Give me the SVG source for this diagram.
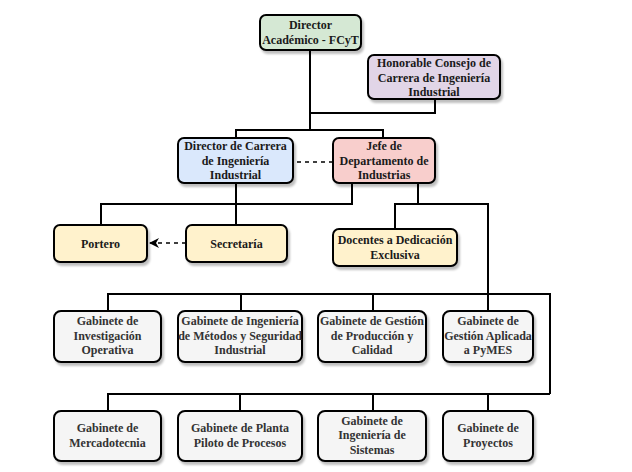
<svg xmlns="http://www.w3.org/2000/svg" width="632" height="472" viewBox="0 0 632 472">
<style>
.box{stroke:#000;stroke-width:2;filter:url(#sh)}
.t{font-family:"Liberation Serif","Times New Roman",serif;font-weight:bold;font-size:12px;text-anchor:middle;fill:#1a1a1a}
.g .t{fill:#333}
.c{fill:none;stroke:#000;stroke-width:2}
.d{fill:none;stroke:#000;stroke-width:1.5;stroke-dasharray:4 4}
.green{fill:#d5e8d4}.purple{fill:#e1d5e7}.blue{fill:#dae8fc}.red{fill:#f8cecc}.yellow{fill:#fff2cc}.gray{fill:#f5f5f5}
</style>
<defs>
<filter id="sh" x="-10%" y="-10%" width="130%" height="140%">
<feDropShadow dx="2" dy="3" stdDeviation="1.2" flood-color="#000" flood-opacity="0.25"/>
</filter>
<marker id="arr" viewBox="0 0 10 10" refX="9" refY="5" markerWidth="10" markerHeight="10" markerUnits="userSpaceOnUse" orient="auto">
<path d="M0,0 L10,5 L0,10 L3,5 z" fill="#000"/>
</marker>
</defs>
<rect width="632" height="472" fill="#fff"/>
<g id="connectors">
<path class="c" d="M310,50 V130"/>
<path class="c" d="M435,99 V113 H310"/>
<path class="c" d="M236,138 V130 H383 V138"/>
<path class="d" d="M297,162 H333"/>
<path class="c" d="M236,183 V225"/>
<path class="c" d="M352,183 V204 H101 V225"/>
<path class="c" d="M418,183 V204"/>
<path class="c" d="M395,229 V204 H488 V311"/>
<path class="c" d="M108,311 V294 H550 V394"/>
<path class="c" d="M241,294 V311"/>
<path class="c" d="M373,294 V311"/>
<path class="c" d="M108,411 V394 H550"/>
<path class="c" d="M240,394 V411"/>
<path class="c" d="M373,394 V411"/>
<path class="c" d="M488,394 V411"/>
<path class="d" d="M186,243 H150" marker-end="url(#arr)"/>
</g>
<g id="director-academico"><rect class="box green" x="260" y="15" width="101" height="35" rx="6"/>
<text class="t" x="310.5" y="29">Director</text><text class="t" x="310.5" y="44">Académico - FCyT</text></g>
<g id="honorable-consejo"><rect class="box purple" x="368" y="55" width="132" height="44" rx="6"/>
<text class="t" x="434" y="67">Honorable Consejo de</text><text class="t" x="434" y="81.5">Carrera de Ingeniería</text><text class="t" x="434" y="96">Industrial</text></g>
<g id="director-carrera"><rect class="box blue" x="178" y="138" width="115" height="45" rx="6"/>
<text class="t" x="235.5" y="150">Director de Carrera</text><text class="t" x="235.5" y="164.5">de Ingeniería</text><text class="t" x="235.5" y="179">Industrial</text></g>
<g id="jefe-departamento"><rect class="box red" x="333" y="138" width="102" height="45" rx="6"/>
<text class="t" x="384" y="150">Jefe de</text><text class="t" x="384" y="164.5">Departamento de</text><text class="t" x="384" y="179">Industrias</text></g>
<g id="portero"><rect class="box yellow" x="54" y="225" width="93" height="37" rx="6"/>
<text class="t" x="100.5" y="247.5">Portero</text></g>
<g id="secretaria"><rect class="box yellow" x="186" y="225" width="101" height="37" rx="6"/>
<text class="t" x="236.5" y="247.5">Secretaría</text></g>
<g id="docentes"><rect class="box yellow" x="333" y="229" width="124" height="37" rx="6"/>
<text class="t" x="395" y="244">Docentes a Dedicación</text><text class="t" x="395" y="258.5">Exclusiva</text></g>
<g id="gab-investigacion" class="g"><rect class="box gray" x="54" y="311" width="107" height="51" rx="7"/>
<text class="t" x="107.5" y="325">Gabinete de</text><text class="t" x="107.5" y="339.5">Investigación</text><text class="t" x="107.5" y="354">Operativa</text></g>
<g id="gab-metodos" class="g"><rect class="box gray" x="178" y="311" width="124" height="51" rx="7"/>
<text class="t" x="240" y="325">Gabinete de Ingeniería</text><text class="t" x="240" y="339.5">de Métodos y Seguridad</text><text class="t" x="240" y="354">Industrial</text></g>
<g id="gab-produccion" class="g"><rect class="box gray" x="318" y="311" width="108" height="51" rx="7"/>
<text class="t" x="372" y="325">Gabinete de Gestión</text><text class="t" x="372" y="339.5">de Producción y</text><text class="t" x="372" y="354">Calidad</text></g>
<g id="gab-pymes" class="g"><rect class="box gray" x="443" y="311" width="90" height="51" rx="7"/>
<text class="t" x="488" y="325">Gabinete de</text><text class="t" x="488" y="339.5">Gestión Aplicada</text><text class="t" x="488" y="354">a PyMES</text></g>
<g id="gab-mercadotecnia" class="g"><rect class="box gray" x="54" y="411" width="107" height="50" rx="7"/>
<text class="t" x="107.5" y="432">Gabinete de</text><text class="t" x="107.5" y="446.5">Mercadotecnia</text></g>
<g id="gab-planta" class="g"><rect class="box gray" x="178" y="411" width="124" height="50" rx="7"/>
<text class="t" x="240" y="432">Gabinete de Planta</text><text class="t" x="240" y="446.5">Piloto de Procesos</text></g>
<g id="gab-sistemas" class="g"><rect class="box gray" x="318" y="411" width="108" height="50" rx="7"/>
<text class="t" x="372" y="424.5">Gabinete de</text><text class="t" x="372" y="439">Ingeniería de</text><text class="t" x="372" y="453.5">Sistemas</text></g>
<g id="gab-proyectos" class="g"><rect class="box gray" x="443" y="411" width="90" height="50" rx="7"/>
<text class="t" x="488" y="432">Gabinete de</text><text class="t" x="488" y="446.5">Proyectos</text></g>
</svg>
